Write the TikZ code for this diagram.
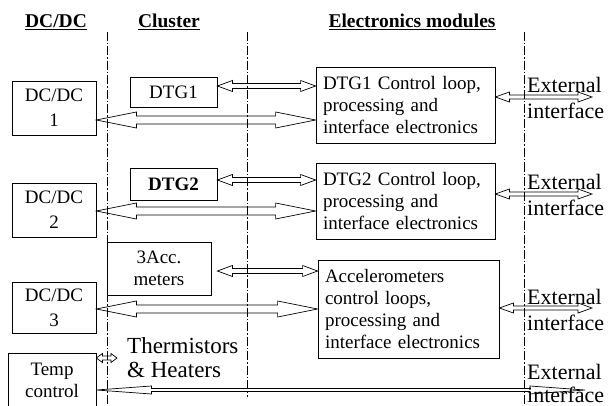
\documentclass[tikz,border=0pt]{standalone}
\usepackage{fontspec}
\setmainfont{Liberation Serif}
\usetikzlibrary{calc}

% hollow two-headed arrow: start, end, shaft half, head half, head length
\newcommand{\biarrow}[5]{%
  \draw[arr] let \p1=#1, \p2=#2 in
    (\x1,\y1) -- (\x1+#5,\y1+#4) -- (\x1+#5,\y1+#3) -- (\x2-#5,\y1+#3)
    -- (\x2-#5,\y1+#4) -- (\x2,\y1) -- (\x2-#5,\y1-#4) -- (\x2-#5,\y1-#3)
    -- (\x1+#5,\y1-#3) -- (\x1+#5,\y1-#4) -- cycle;}

\begin{document}
\begin{tikzpicture}[x=1pt, y=-1pt,
  every node/.style={font=\fontsize{19}{22}\selectfont},
  box/.style={draw, line width=0.8pt, inner sep=0pt, align=center},
  dcbox/.style={box, minimum width=84pt, font=\fontsize{19}{25}\selectfont},
  ctlbox/.style={box, align=left, inner xsep=7pt},
  head/.style={font=\fontsize{19.5}{22}\selectfont\bfseries},
  ext/.style={font=\fontsize{22}{26}\selectfont, align=left, anchor=west, inner sep=0pt},
  sep/.style={line width=0.6pt, dash pattern=on 9pt off 2pt on 1.5pt off 2pt},
  arr/.style={line width=0.7pt, line join=miter}
]
\useasboundingbox (0,0) rectangle (612,406);

% column headings
\node[head] (hdc) at (56,22) {\underline{DC/DC}};
\node[head] (hcl) at (169,22) {\underline{Cluster}};
\node[head] (hel) at (412,22) {\underline{Electronics modules}};

% separators
\draw[sep] (107,32) -- (107,404);
\draw[sep] (247,32) -- (247,397);
\draw[sep] (524,32) -- (524,404);

% DC/DC column
\node[dcbox, minimum height=54pt] (dc1) at (54,108) {DC/DC\\1};
\node[dcbox, minimum height=54pt] (dc2) at (54,210) {DC/DC\\2};
\node[dcbox, minimum height=51pt] (dc3) at (54,307.5) {DC/DC\\3};
\node[box, minimum width=88pt, minimum height=55pt] (temp) at (52,380.5) {Temp\\control};

% cluster
\node[box, minimum width=87pt, minimum height=30pt] (dtg1) at (173.5,92) {DTG1};
\node[box, minimum width=87pt, minimum height=32pt, font=\fontsize{19}{22}\selectfont\bfseries] (dtg2) at (173.5,184) {DTG2};
\node[box, minimum width=104pt, minimum height=53pt] (acc) at (159,268.5) {3Acc.\\meters};
\node[anchor=west, align=left, inner sep=0pt, font=\fontsize{23}{24}\selectfont] (therm) at (127,358) {Thermistors\\\& Heaters};

% electronics modules
\node[ctlbox, text width=165pt, minimum height=76pt] (ctl1) at (405.5,105)
  {DTG1 Control loop,\\processing and\\interface electronics};
\node[ctlbox, text width=165pt, minimum height=76pt] (ctl2) at (405.5,201)
  {DTG2 Control loop,\\processing and\\interface electronics};
\node[ctlbox, text width=167pt, minimum height=98pt] (ctl3) at (408.5,309)
  {Accelerometers\\control loops,\\processing and\\interface electronics};

% external side
\node[ext] (ext1) at (527,98) {External\\interface};
\node[ext] (ext2) at (527,195) {External\\interface};
\node[ext] (ext3) at (527,310) {External\\interface};
\node[ext, font=\fontsize{22}{23}\selectfont] (ext4) at (527,383) {External\\interface};
\coordinate (io1) at (592,97);
\coordinate (io2) at (592,194);
\coordinate (io3) at (592,308);
\coordinate (io4) at (585,390);
\coordinate (th) at (117,358);

% links
\biarrow{([yshift=6pt]dtg1.east)}{(ctl1.west)}{2.5pt}{5.5pt}{15pt}
\biarrow{([yshift=-12pt]dc1.east)}{(ctl1.west)}{4pt}{8pt}{40pt}
\biarrow{([yshift=4pt]dtg2.east)}{(ctl2.west)}{2.5pt}{5.5pt}{15pt}
\biarrow{([yshift=-1pt]dc2.east)}{(ctl2.west)}{4pt}{8pt}{40pt}
\biarrow{([xshift=6pt,yshift=-2.5pt]acc.east)}{(ctl3.west)}{2.5pt}{5.5pt}{15pt}
\biarrow{([yshift=-1.5pt]dc3.east)}{(ctl3.west)}{4pt}{8pt}{40pt}
\biarrow{([yshift=8pt]ctl1.east)}{(io1)}{2pt}{5pt}{14pt}
\biarrow{([yshift=7pt]ctl2.east)}{(io2)}{2pt}{5pt}{14pt}
\biarrow{([yshift=1pt]ctl3.east)}{(io3)}{2pt}{5pt}{14pt}
\biarrow{([yshift=22.5pt]temp.east)}{(th)}{2pt}{4.5pt}{6pt}
\biarrow{([yshift=-9.5pt]temp.east)}{(io4)}{1.5pt}{4pt}{55pt}
\end{tikzpicture}
\end{document}
